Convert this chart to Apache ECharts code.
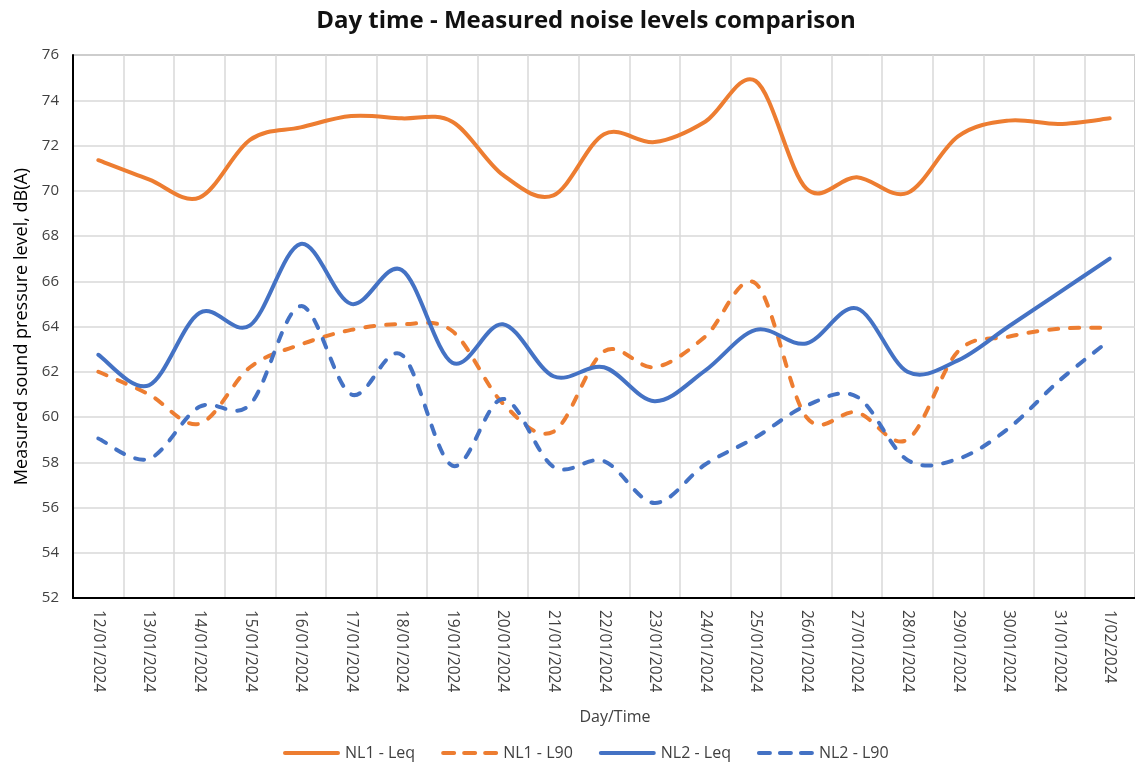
<!DOCTYPE html>
<html>
<head>
<meta charset="utf-8">
<title>Day time - Measured noise levels comparison</title>
<script src="https://cdn.jsdelivr.net/npm/echarts@6/dist/echarts.min.js"></script>
<style>
  html, body { margin: 0; padding: 0; background: #fff; }
  #noiseChart { width: 1135px; height: 762px; }
</style>
</head>
<body>
<div id="noiseChart"></div>
<script>
// days on the x axis
const dates = [
  "12/01/2024", "13/01/2024", "14/01/2024", "15/01/2024", "16/01/2024", "17/01/2024", "18/01/2024",
  "19/01/2024", "20/01/2024", "21/01/2024", "22/01/2024", "23/01/2024", "24/01/2024", "25/01/2024",
  "26/01/2024", "27/01/2024", "28/01/2024", "29/01/2024", "30/01/2024", "31/01/2024", "1/02/2024"
]

// measured levels, dB(A)
const nl1Leq = [71.35, 70.5, 69.7, 72.25, 72.8, 73.3, 73.2, 73.05, 70.7, 69.8, 72.5, 72.15, 73.05, 74.85, 70.1, 70.6, 69.9, 72.4, 73.1, 72.95, 73.2]
const nl1L90 = [62.0, 61.0, 59.7, 62.2, 63.2, 63.85, 64.1, 63.8, 60.6, 59.35, 62.9, 62.2, 63.55, 65.9, 60.0, 60.2, 59.0, 62.9, 63.55, 63.9, 63.95]
const nl2Leq = [62.75, 61.4, 64.6, 64.05, 67.65, 65.0, 66.5, 62.4, 64.1, 61.8, 62.2, 60.7, 62.05, 63.85, 63.25, 64.8, 62.0, 62.5, 64.0, 65.5, 67.0]
const nl2L90 = [59.05, 58.15, 60.45, 60.55, 64.9, 61.0, 62.75, 57.85, 60.8, 57.8, 58.05, 56.2, 57.9, 59.1, 60.5, 60.9, 58.1, 58.15, 59.5, 61.6, 63.4]

const orange = "#ED7D31"
const blue = "#4472C4"
const font = "'Open Sans', sans-serif"
const textColor = "#404040"

// legend samples: a solid bar and three dashes
const solidIcon = "path://M2,0H55A2,2 0 0 1 55,4H2A2,2 0 0 1 2,0Z"
const dashIcon = "path://M2,0H13A2,2 0 0 1 13,4H2A2,2 0 0 1 2,0Z M23,0H34A2,2 0 0 1 34,4H23A2,2 0 0 1 23,0Z M44,0H55A2,2 0 0 1 55,4H44A2,2 0 0 1 44,0Z"

// smooth curve through the points (same kind of spline as the spreadsheet chart)
const curveRenderer = (color, dashed) => (params, api) => {
  if (params.dataIndex !== 0) return
  const count = params.dataInsideLength
  const pts = []
  for (let i = 0; i < count; i++) {
    pts.push(api.coord([api.value(0, i), api.value(1, i)]))
  }
  let d = "M" + pts[0][0] + "," + pts[0][1]
  for (let i = 0; i < pts.length - 1; i++) {
    const p0 = pts[i - 1] || pts[i]
    const p1 = pts[i]
    const p2 = pts[i + 1]
    const p3 = pts[i + 2] || pts[i + 1]
    const c1x = p1[0] + (p2[0] - p0[0]) / 6
    const c1y = p1[1] + (p2[1] - p0[1]) / 6
    const c2x = p2[0] - (p3[0] - p1[0]) / 6
    const c2y = p2[1] - (p3[1] - p1[1]) / 6
    d += " C" + c1x + "," + c1y + " " + c2x + "," + c2y + " " + p2[0] + "," + p2[1]
  }
  return {
    type: "path",
    shape: { pathData: d },
    style: {
      fill: "none",
      stroke: color,
      lineWidth: 4,
      lineCap: "round",
      lineJoin: "round",
      lineDash: dashed ? [9, 12] : null
    }
  }
}

const makeSeries = (name, values, color, dashed) => ({
  name: name,
  type: "custom",
  data: values.map((v, i) => [i, v]),
  encode: { x: 0, y: 1 },
  itemStyle: { color: color },
  renderItem: curveRenderer(color, dashed)
})

const chart = echarts.init(document.getElementById("noiseChart"))
chart.setOption({
  animation: false,
  textStyle: { fontFamily: font },
  title: {
    text: "Day time - Measured noise levels comparison",
    left: 581,
    textAlign: "center",
    top: 4,
    textStyle: { fontFamily: font, fontSize: 24, fontWeight: "bold", color: "#111" }
  },
  legend: {
    left: 278,
    top: 740,
    itemWidth: 57,
    itemHeight: 4,
    itemGap: 26,
    textStyle: { fontFamily: font, fontSize: 16, color: textColor },
    data: [
      { name: "NL1 - Leq", icon: solidIcon },
      { name: "NL1 - L90", icon: dashIcon },
      { name: "NL2 - Leq", icon: solidIcon },
      { name: "NL2 - L90", icon: dashIcon }
    ]
  },
  grid: {
    left: 73,
    top: 55,
    width: 1064,
    height: 543,
    show: true,
    borderColor: "#595959",
    borderWidth: 1
  },
  xAxis: {
    type: "category",
    data: dates,
    boundaryGap: true,
    name: "Day/Time",
    nameLocation: "middle",
    nameGap: 111,
    nameTextStyle: { fontFamily: font, fontSize: 16, color: textColor, padding: [0, 0, 0, 22] },
    axisLine: { lineStyle: { color: "#000", width: 2 } },
    axisTick: { show: false },
    axisLabel: { interval: 0, rotate: -90, fontSize: 15.5, color: textColor, margin: 12 },
    splitLine: { show: true, interval: 0, lineStyle: { color: "#d9d9d9", width: 1.5 } }
  },
  yAxis: {
    type: "value",
    min: 52,
    max: 76,
    interval: 2,
    name: "Measured sound pressure level, dB(A)",
    nameLocation: "middle",
    nameGap: 42,
    nameTextStyle: { fontFamily: font, fontSize: 18, color: "#000" },
    axisLine: { show: true, lineStyle: { color: "#000", width: 2 } },
    axisTick: { show: false },
    axisLabel: { fontSize: 15, color: textColor, margin: 14 },
    splitLine: { lineStyle: { color: "#d9d9d9", width: 1.5 } }
  },
  series: [
    makeSeries("NL1 - Leq", nl1Leq, orange, false),
    makeSeries("NL1 - L90", nl1L90, orange, true),
    makeSeries("NL2 - Leq", nl2Leq, blue, false),
    makeSeries("NL2 - L90", nl2L90, blue, true)
  ]
})
</script>
</body>
</html>
